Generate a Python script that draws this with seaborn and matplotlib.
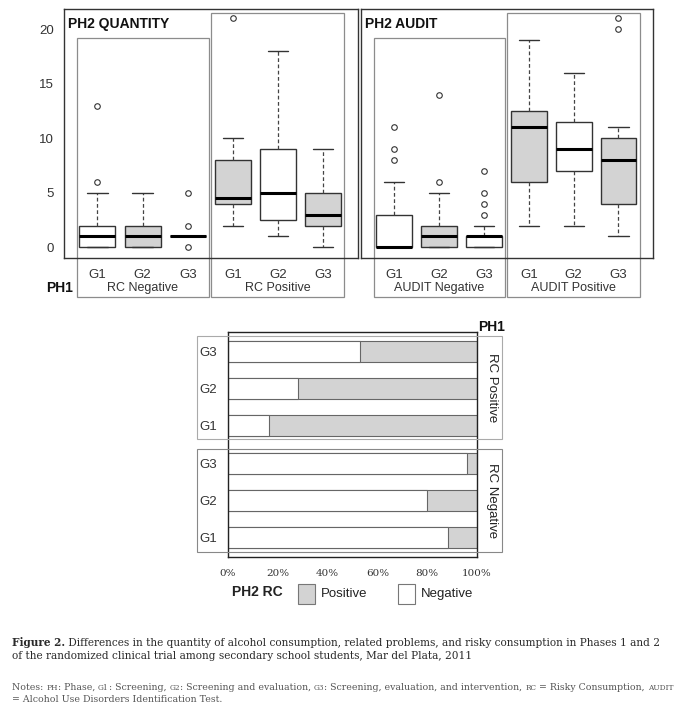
"""
plot.py - PH1 / PH2 boxplots and risky-consumption bars (Figure 2).
"""

import matplotlib
matplotlib.use("Agg")
import matplotlib.pyplot as plt
from matplotlib.patches import Rectangle
import pandas as pd
import seaborn as sns

W, H = 690, 714
SANS = ["Liberation Sans", "DejaVu Sans"]
SERIF = ["DejaVu Serif"]
GRAY = "#d3d3d3"
INK = "#333333"

# ---- data ----------------------------------------------------------------
box_labels = ["G1", "G2", "G3", "G1", "G2", "G3"]
box_fill = ["white", GRAY, "white", GRAY, "white", GRAY]

# PH2 quantity by PH1 RC (Negative G1..G3, Positive G1..G3)
qty_lo = [0, 0, 1, 2, 1, 0]
qty_q1 = [0, 0, 1, 4, 2.5, 2]
qty_med = [1, 1, 1, 4.5, 5, 3]
qty_q3 = [2, 2, 1, 8, 9, 5]
qty_hi = [5, 5, 1, 10, 18, 9]
qty_out = [[6, 13], [], [0, 2, 5], [21], [], []]

# PH2 AUDIT by PH1 AUDIT (Negative G1..G3, Positive G1..G3)
aud_lo = [0, 0, 0, 2, 2, 1]
aud_q1 = [0, 0, 0, 6, 7, 4]
aud_med = [0, 1, 1, 11, 9, 8]
aud_q3 = [3, 2, 1, 12.5, 11.5, 10]
aud_hi = [6, 5, 2, 19, 16, 11]
aud_out = [[8, 9, 11], [6, 14], [3, 4, 5, 7], [], [], [20, 21]]

# PH2 RC (%) by PH1 RC, rows from top to bottom
rc_ph1 = ["RC Positive"] * 3 + ["RC Negative"] * 3
rc_group = ["G3", "G2", "G1", "G3", "G2", "G1"]
rc_negative = [53, 28, 16.5, 96, 80, 88.5]
rc_positive = [47, 72, 83.5, 4, 20, 11.5]
pct_ticks = [0, 20, 40, 60, 80, 100]


def fx(x):
    return x / W


def fy(y):
    return 1 - y / H


def ax_px(fig, x0, y0, x1, y1):
    return fig.add_axes([fx(x0), fy(y1), (x1 - x0) / W, (y1 - y0) / H])


def box_stats(lo, q1, med, q3, hi, out):
    return [
        dict(whislo=a, q1=b, med=c, q3=d, whishi=e, fliers=f)
        for a, b, c, d, e, f in zip(lo, q1, med, q3, hi, out)
    ]


def draw_boxes(ax, stats, title, neg_label, pos_label, show_y):
    pos = list(range(1, len(stats) + 1))
    bp = ax.bxp(
        stats, positions=pos, widths=0.8, capwidths=0.45, patch_artist=True,
        boxprops=dict(edgecolor=INK, linewidth=1.0),
        whiskerprops=dict(color="#444444", linewidth=0.9, linestyle=(0, (3, 2))),
        capprops=dict(color=INK, linewidth=1.0),
        medianprops=dict(color="black", linewidth=2.2),
        flierprops=dict(marker="o", markerfacecolor="none", markeredgecolor=INK,
                        markersize=4, markeredgewidth=0.8),
    )
    for patch, c in zip(bp["boxes"], box_fill):
        patch.set_facecolor(c)

    ax.set_xlim(0.26, 6.77)
    ax.set_ylim(-0.98, 21.86)
    ax.set_xticks(pos)
    ax.set_xticklabels(box_labels)
    ax.tick_params(axis="x", length=5, pad=3, labelsize=9.5, colors=INK)
    if show_y:
        ax.set_yticks([0, 5, 10, 15, 20])
        ax.tick_params(axis="y", length=3.5, labelsize=9.5, colors=INK)
    else:
        ax.set_yticks([])
    for s in ax.spines.values():
        s.set_color(INK)
        s.set_linewidth(1.0)
        s.set_visible(True)

    # PH1 sub-panels
    tr = ax.get_xaxis_transform()
    ax.add_patch(Rectangle((0.54, -0.157), 2.94, 0.885 + 0.157, transform=tr,
                           fill=False, ec="#8c8c8c", lw=0.9, clip_on=False))
    ax.add_patch(Rectangle((3.51, -0.157), 2.96, 0.983 + 0.157, transform=tr,
                           fill=False, ec="#8c8c8c", lw=0.9, clip_on=False))
    ax.text(2, -0.12, neg_label, transform=tr, ha="center", va="center",
            fontsize=9, color=INK, clip_on=False)
    ax.text(5, -0.12, pos_label, transform=tr, ha="center", va="center",
            fontsize=9, color=INK, clip_on=False)
    ax.text(0.014, 0.94, title, transform=ax.transAxes, ha="left", va="center",
            fontsize=10, fontweight="bold", color="#111111")


def text_width(fig, s, size, weight):
    r = fig.canvas.get_renderer()
    a = fig.text(0, 0, "|" + s + "|", fontsize=size, fontweight=weight, family=SERIF)
    b = fig.text(0, 0, "||", fontsize=size, fontweight=weight, family=SERIF)
    w = a.get_window_extent(r).width - b.get_window_extent(r).width
    a.remove()
    b.remove()
    return w


def draw_runs(fig, x, y, runs, color):
    for s, size, weight in runs:
        fig.text(fx(x), fy(y), s, fontsize=size, fontweight=weight, family=SERIF,
                 color=color, ha="left", va="baseline")
        x += text_width(fig, s, size, weight)


def fit_size(fig, runs, target):
    w = sum(text_width(fig, s, 10 * k, wt) for s, k, wt in runs)
    return 10 * target / w


sns.set_style("white")
plt.rcParams["font.family"] = SANS

fig = plt.figure(figsize=(W / 100, H / 100), dpi=100)

# ---- top: boxplots ------------------------------------------------------
ax_q = ax_px(fig, 64, 9, 358, 258)
draw_boxes(ax_q, box_stats(qty_lo, qty_q1, qty_med, qty_q3, qty_hi, qty_out),
           "PH2 QUANTITY", "RC Negative", "RC Positive", True)
ax_a = ax_px(fig, 361, 9, 653, 258)
draw_boxes(ax_a, box_stats(aud_lo, aud_q1, aud_med, aud_q3, aud_hi, aud_out),
           "PH2 AUDIT", "AUDIT Negative", "AUDIT Positive", False)
fig.text(fx(46), fy(288), "PH1", fontsize=10, fontweight="bold", color="#111111",
         ha="left", va="center")

# ---- bottom: stacked PH2 RC bars ----------------------------------------
df = pd.DataFrame({
    "row": [f"{p} {g}" for p, g in zip(rc_ph1, rc_group)],
    "neg": rc_negative,
    "pos": rc_positive,
})
df["total"] = df["neg"] + df["pos"]

ax_b = ax_px(fig, 228, 332, 477, 557)
sns.barplot(data=df, x="total", y="row", orient="h", color=GRAY, width=0.57,
            edgecolor="#666666", linewidth=0.8, saturation=1, errorbar=None, ax=ax_b)
sns.barplot(data=df, x="neg", y="row", orient="h", color="white", width=0.57,
            edgecolor="#666666", linewidth=0.8, saturation=1, errorbar=None, ax=ax_b)
ax_b.set_xlim(0, 100)
ax_b.set_ylim(5.52, -0.52)
ax_b.set_xlabel("")
ax_b.set_ylabel("")
ax_b.set_yticks(range(len(rc_group)))
ax_b.set_yticklabels(rc_group)
ax_b.set_xticks(pct_ticks)
ax_b.set_xticklabels([f"{t}%" for t in pct_ticks], family=SERIF, fontsize=7.5)
ax_b.tick_params(axis="x", length=0, pad=9, colors=INK)
ax_b.tick_params(axis="y", length=0, pad=8, labelsize=9.5, colors=INK)
for s in ax_b.spines.values():
    s.set_color("#222222")
    s.set_linewidth(1.0)
    s.set_visible(True)

# PH1 facet frames and strip labels
for y0, y1, label, ec in [(336, 439, "RC Positive", "#aaaaaa"),
                          (449, 552, "RC Negative", "#888888")]:
    fig.add_artist(Rectangle((fx(197), fy(y1)), (502 - 197) / W, (y1 - y0) / H,
                             transform=fig.transFigure, fill=False, ec=ec, lw=0.8))
    fig.text(fx(492), fy((y0 + y1) / 2), label, rotation=270, ha="center",
             va="center", fontsize=9.5, color="#222222")
fig.text(fx(492), fy(327), "PH1", fontsize=10, fontweight="bold", color="#111111",
         ha="center", va="center")

# legend
fig.text(fx(232), fy(592), "PH2 RC", fontsize=10, fontweight="bold", color="#222222",
         ha="left", va="center")
for x0, c, label in [(298, GRAY, "Positive"), (398, "white", "Negative")]:
    fig.add_artist(Rectangle((fx(x0), fy(604)), 17 / W, 20 / H, transform=fig.transFigure,
                             fc=c, ec="#777777", lw=0.8))
    fig.text(fx(x0 + 23), fy(594), label, fontsize=9.5, color="#222222",
             ha="left", va="center")

# ---- caption --------------------------------------------------------------
fig.canvas.draw()
cap1 = [("Figure 2.", 1.0, "bold"),
        (" Differences in the quantity of alcohol consumption, related problems, "
         "and risky consumption in Phases 1 and 2", 1.0, "normal")]
size = fit_size(fig, cap1, 654)
draw_runs(fig, 12, 646, [(s, size * k, w) for s, k, w in cap1], "#2b2b2b")
draw_runs(fig, 12, 659, [("of the randomized clinical trial among secondary school "
                          "students, Mar del Plata, 2011", size, "normal")], "#2b2b2b")

sc = 0.78
notes1 = [("Notes: ", 1, "normal"), ("PH", sc, "normal"), (": Phase, ", 1, "normal"),
          ("G1", sc, "normal"), (": Screening, ", 1, "normal"),
          ("G2", sc, "normal"), (": Screening and evaluation, ", 1, "normal"),
          ("G3", sc, "normal"), (": Screening, evaluation, and intervention, ", 1, "normal"),
          ("RC", sc, "normal"), (" = Risky Consumption, ", 1, "normal"),
          ("AUDIT", sc, "normal")]
nsize = fit_size(fig, notes1, 666)
draw_runs(fig, 12, 690, [(s, nsize * k, w) for s, k, w in notes1], "#555555")
draw_runs(fig, 12, 702, [("= Alcohol Use Disorders Identification Test.", nsize, "normal")],
          "#555555")

fig.savefig("out.png", dpi=100)
plt.close(fig)
